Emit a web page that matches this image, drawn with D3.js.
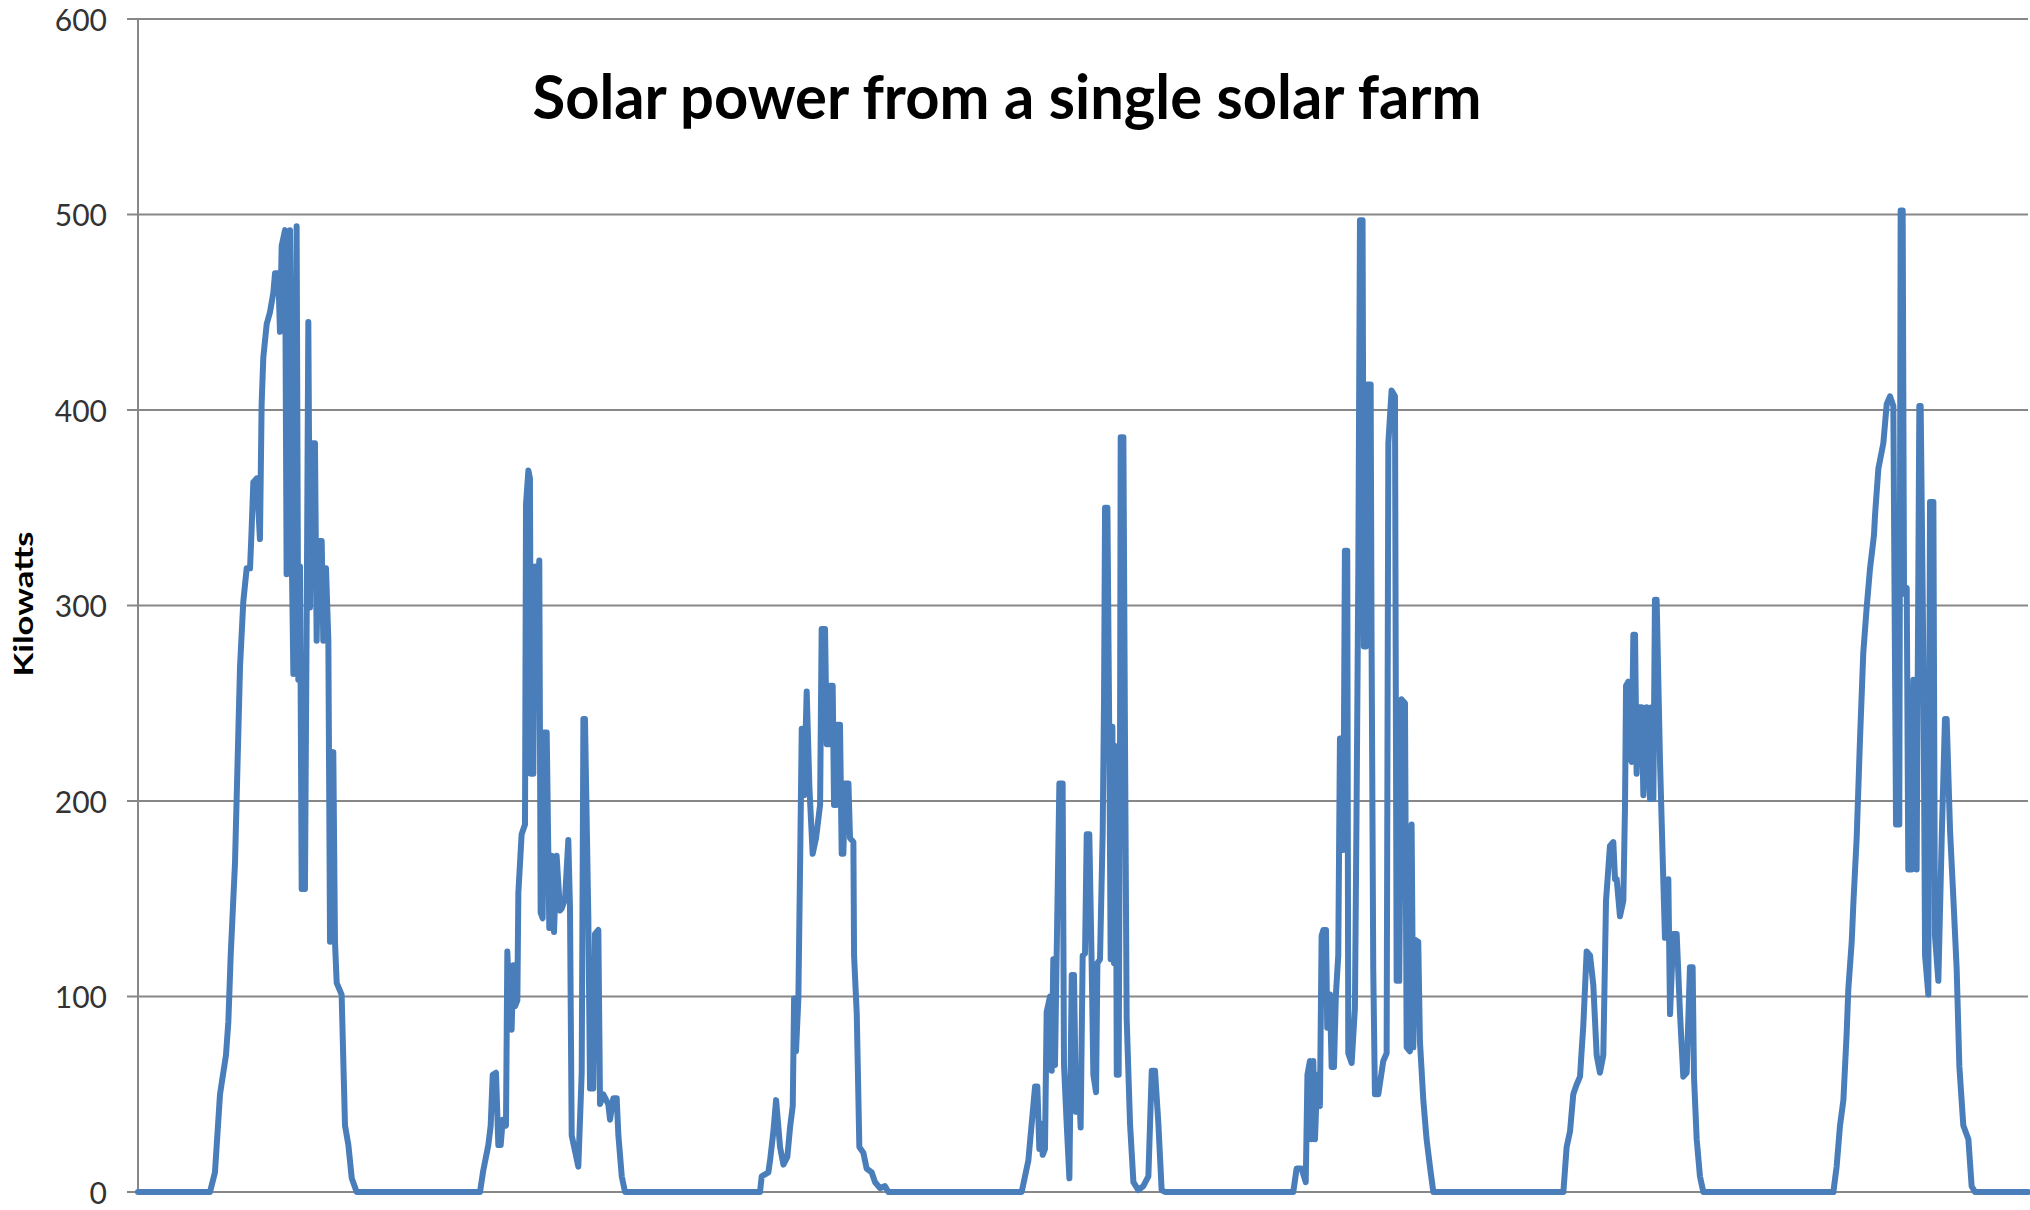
<!DOCTYPE html>
<html>
<head>
<meta charset="utf-8">
<script src="https://cdn.jsdelivr.net/npm/d3@7"></script>
<style>
  html, body { margin: 0; padding: 0; background: #ffffff; }
  svg { display: block; }
</style>
</head>
<body>
<svg id="chart" width="2030" height="1210"></svg>
<script>
// ---- Data: [hour of day, kilowatts] for each of the seven days ----
const title = "Solar power from a single solar farm";
const yTitle = "Kilowatts";
const yTicks = [0, 100, 200, 300, 400, 500, 600];
const dayCount = 7;

const day1 = [[6.4,0],[6.84,10],[7.29,50],[7.82,70],[8.03,87],[8.24,121],[8.62,168],[8.83,215],[9.07,269],[9.36,302],[9.66,319],[9.96,319],[10.1,339],[10.25,363],[10.55,365],[10.84,334],[10.99,403],[11.14,427],[11.44,444],[11.73,450],[12.03,460],[12.18,470],[12.47,470],[12.62,440],[12.77,484],[13.07,492],[13.21,316],[13.51,492],[13.66,329],[13.81,265],[14.1,494],[14.25,262],[14.4,320],[14.55,155],[14.84,155],[15.0,299],[15.14,445],[15.29,299],[15.44,383],[15.73,383],[15.88,282],[16.03,333],[16.33,333],[16.47,282],[16.71,319],[16.92,282],[17.07,128],[17.36,225],[17.51,128],[17.66,107],[18.1,101],[18.4,34],[18.7,24],[19.0,7],[19.44,0]];

const day2 = [[6.4,0],[6.69,11],[7.14,24],[7.35,34],[7.53,60],[7.82,61],[8.03,24],[8.24,24],[8.42,37],[8.71,34],[8.83,123],[9.07,85],[9.21,83],[9.36,116],[9.51,95],[9.72,98],[9.81,153],[10.1,183],[10.4,188],[10.49,352],[10.7,369],[10.84,365],[10.93,214],[11.14,214],[11.29,320],[11.5,294],[11.67,323],[11.79,143],[11.97,140],[12.09,235],[12.33,235],[12.56,135],[12.77,172],[12.98,133],[13.21,172],[13.51,144],[13.66,145],[13.96,150],[14.25,180],[14.4,145],[14.55,29],[15.14,13],[15.44,61],[15.59,242],[15.73,242],[16.03,140],[16.18,53],[16.47,53],[16.62,132],[16.92,134],[17.07,45],[17.36,50],[17.8,45],[17.96,37],[18.25,48],[18.55,48],[18.7,29],[19.0,8],[19.29,0]];

const day3 = [[7.29,0],[7.44,8],[8.03,10],[8.18,16],[8.48,31],[8.72,47],[9.07,23],[9.37,14],[9.72,18],[9.96,33],[10.2,44],[10.32,99],[10.49,72],[10.7,99],[10.85,166],[11.0,237],[11.2,203],[11.44,256],[11.68,207],[11.97,173],[12.27,181],[12.63,198],[12.77,288],[13.07,288],[13.22,229],[13.37,229],[13.52,259],[13.75,259],[13.87,198],[14.05,198],[14.17,239],[14.4,239],[14.55,173],[14.7,173],[14.85,209],[15.15,209],[15.29,181],[15.59,179],[15.65,121],[15.89,91],[16.12,23],[16.48,20],[16.77,12],[17.22,10],[17.52,5],[17.96,2],[18.4,3],[18.7,0]];

const day4 = [[6.55,0],[7.14,16],[7.44,35],[7.74,54],[7.94,54],[8.12,22],[8.24,35],[8.42,19],[8.62,22],[8.77,92],[9.07,100],[9.22,62],[9.36,119],[9.51,65],[9.66,122],[9.9,209],[10.19,209],[10.31,65],[10.55,35],[10.79,7],[11.0,111],[11.2,111],[11.38,41],[11.59,62],[11.79,33],[11.97,121],[12.18,122],[12.33,183],[12.56,183],[12.77,117],[12.92,60],[13.16,51],[13.28,117],[13.51,119],[13.75,184],[13.87,252],[13.96,350],[14.17,350],[14.34,230],[14.46,119],[14.61,238],[14.76,117],[14.91,228],[15.0,60],[15.17,60],[15.29,225],[15.35,386],[15.59,386],[15.74,225],[15.88,89],[16.18,35],[16.48,5],[16.92,1],[17.36,3],[17.81,8],[18.11,62],[18.4,62],[18.7,35],[18.99,1],[19.29,0]];

const day5 = [[6.69,0],[6.99,12],[7.43,12],[7.8,5],[7.95,60],[8.17,67],[8.32,27],[8.47,67],[8.62,27],[8.83,60],[9.06,44],[9.21,131],[9.36,134],[9.6,134],[9.71,84],[9.95,101],[10.1,64],[10.31,64],[10.48,101],[10.69,121],[10.84,232],[10.99,232],[11.14,175],[11.28,328],[11.49,328],[11.58,71],[11.88,66],[12.17,94],[12.32,198],[12.47,316],[12.62,497],[12.85,497],[12.97,279],[13.15,279],[13.27,413],[13.57,413],[13.65,282],[13.8,114],[13.95,50],[14.25,50],[14.69,67],[14.99,71],[15.14,383],[15.43,410],[15.73,407],[15.88,108],[16.11,108],[16.32,252],[16.62,250],[16.77,74],[17.06,72],[17.21,188],[17.36,74],[17.51,129],[17.8,128],[17.95,77],[18.25,47],[18.54,27],[18.84,13],[19.14,0]];

const day6 = [[6.7,0],[6.99,23],[7.29,31],[7.58,50],[7.88,55],[8.18,59],[8.32,72],[8.47,85],[8.77,123],[9.07,121],[9.36,106],[9.66,70],[9.95,61],[10.25,70],[10.49,149],[10.84,177],[11.14,179],[11.29,160],[11.44,160],[11.73,141],[12.03,149],[12.18,198],[12.27,259],[12.47,261],[12.62,222],[12.77,220],[12.92,285],[13.07,285],[13.21,214],[13.36,248],[13.66,248],[13.81,203],[14.1,248],[14.4,201],[14.55,248],[14.7,201],[14.84,303],[14.99,303],[15.29,220],[15.58,160],[15.73,130],[16.03,160],[16.18,91],[16.47,132],[16.77,132],[17.07,91],[17.36,59],[17.66,61],[17.95,115],[18.19,115],[18.31,59],[18.55,27],[18.84,8],[19.14,0]];

const day7 = [[6.7,0],[6.99,13],[7.29,34],[7.59,47],[7.88,81],[8.03,104],[8.33,128],[8.48,148],[8.77,181],[9.07,232],[9.36,276],[9.66,299],[9.96,319],[10.31,336],[10.4,346],[10.7,370],[11.14,383],[11.44,403],[11.73,407],[12.03,402],[12.27,188],[12.56,188],[12.68,502],[12.86,502],[12.98,306],[13.22,309],[13.36,165],[13.66,165],[13.81,262],[14.1,165],[14.34,402],[14.46,402],[14.7,272],[14.85,121],[15.14,101],[15.29,353],[15.59,353],[15.73,131],[16.03,108],[16.33,181],[16.62,242],[16.77,242],[17.07,185],[17.36,151],[17.66,114],[17.9,64],[18.25,34],[18.7,27],[18.99,3],[19.29,0]];

const days = [day1, day2, day3, day4, day5, day6, day7];

// ---- Build series (hour of week, kW) ----
const series = [{h: 0, kw: 0}];
days.forEach((day, i) => day.forEach(([hod, kw]) => series.push({h: i * 24 + hod, kw})));
series.push({h: dayCount * 24, kw: 0});

// ---- Layout ----
const svg = d3.select("#chart");
const mLeft = 138, mRight = 2028, mTop = 19, mBottom = 1192;

const x = d3.scaleLinear().domain([0, dayCount * 24]).range([mLeft, mRight]);
const y = d3.scaleLinear().domain([0, 600]).range([mBottom, mTop]);

const gridColor = "#878787";
const font = "Lato, 'Open Sans', sans-serif";

// Gridlines (with small left tick)
svg.append("g").selectAll("line").data(yTicks).join("line")
  .attr("x1", mLeft - 11).attr("x2", mRight)
  .attr("y1", d => y(d)).attr("y2", d => y(d))
  .attr("stroke", gridColor).attr("stroke-width", 2);

// Y axis line
svg.append("line")
  .attr("x1", mLeft).attr("x2", mLeft)
  .attr("y1", y(600)).attr("y2", y(0))
  .attr("stroke", gridColor).attr("stroke-width", 2);

// Y tick labels via axis
const yAxis = d3.axisLeft(y).tickValues(yTicks).tickSize(0).tickPadding(31);
const ya = svg.append("g").attr("transform", `translate(${mLeft},0)`).call(yAxis);
ya.select(".domain").remove();
ya.selectAll("text")
  .attr("font-family", font)
  .attr("font-size", 30)
  .attr("fill", "#333333")
  .attr("dy", "0.37em");

// Data line
const line = d3.line().x(d => x(d.h)).y(d => y(d.kw));
svg.append("path")
  .datum(series)
  .attr("d", line)
  .attr("fill", "none")
  .attr("stroke", "#4a7ebb")
  .attr("stroke-width", 6)
  .attr("stroke-linejoin", "round")
  .attr("stroke-linecap", "round");

// Title
svg.append("text")
  .attr("x", 1007).attr("y", 119)
  .attr("text-anchor", "middle")
  .attr("font-family", font)
  .attr("font-weight", 700)
  .attr("font-size", 62)
  .attr("fill", "#000")
  .attr("textLength", 949)
  .attr("lengthAdjust", "spacingAndGlyphs")
  .text(title);

// Y axis title
svg.append("text")
  .attr("transform", "translate(33,604) rotate(-90)")
  .attr("text-anchor", "middle")
  .attr("font-family", font)
  .attr("font-weight", 700)
  .attr("font-size", 26)
  .attr("fill", "#000")
  .attr("textLength", 145)
  .attr("lengthAdjust", "spacingAndGlyphs")
  .text(yTitle);
</script>
</body>
</html>
